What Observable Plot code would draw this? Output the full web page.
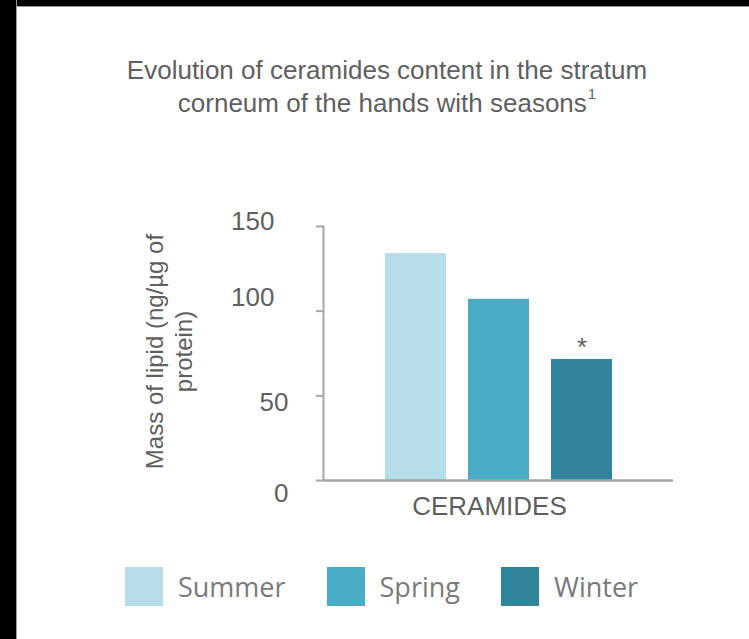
<!DOCTYPE html>
<html>
<head>
<meta charset="utf-8">
<script src="https://cdn.jsdelivr.net/npm/d3@7"></script>
<script src="https://cdn.jsdelivr.net/npm/@observablehq/plot@0.6"></script>
<style>
  html, body { margin: 0; padding: 0; background: #fff; }
  #page { position: relative; width: 749px; height: 639px; overflow: hidden; background: #fff; }
  #title {
    position: absolute; top: 53.5px; left: 16px; width: 742px;
    text-align: center; font-family: "Liberation Sans", Arial, sans-serif;
    font-size: 26px; line-height: 33.5px; color: #5f5f5f;
  }
  #title .sup { font-size: 15px; position: relative; top: -13px; margin-left: 1px; }
  #chart { position: absolute; top: 0; left: 0; }
  #chart svg { background: transparent !important; }
  #legend {
    position: absolute; top: 567px; left: 125px; display: flex; align-items: center;
    font-family: "Open Sans", sans-serif; font-size: 27px; color: #7a7a7a;
  }
  #legend .item { display: flex; align-items: center; margin-right: 41px; }
  #legend .sw { width: 38px; height: 39px; margin-right: 15px; }
  #bl { position: absolute; left: 0; top: 0; width: 16px; height: 639px; background: #000; border-right: 1px solid #9a9a9a; }
  #bt { position: absolute; left: 0; top: 0; width: 749px; height: 6px; background: #000; border-bottom: 1px solid #9a9a9a; }
</style>
</head>
<body>
<div id="page">
  <div id="chart"></div>
  <div id="title"></div>
  <div id="legend"></div>
  <div id="bt"></div>
  <div id="bl"></div>
</div>
<script>
// ---- data ----
const titleLine1 = "Evolution of ceramides content in the stratum";
const titleLine2 = "corneum of the hands with seasons";
const titleNote = "1";
const yLabel = "Mass of lipid (ng/\u00b5g of\nprotein)";
const category = "CERAMIDES";
const seasons = ["Summer", "Spring", "Winter"];
const values = [134, 107, 71.5];
const significance = ["", "", "*"];
const colors = ["#b7dde8", "#4bacc6", "#31849b"];
const yTicks = [0, 50, 100, 150];

const rows = seasons.map((s, i) => ({season: s, value: values[i], sig: significance[i]}));

// ---- title ----
const title = document.getElementById("title");
title.innerHTML = `${titleLine1}<br>${titleLine2}<span class="sup">${titleNote}</span>`;

const textColor = "#5f5f5f";
const axisColor = "#a6a6a6";

function tickLabel(vals, dx, dy) {
  return Plot.text(vals, {
    y: d => d, text: d => String(d), frameAnchor: "left", textAnchor: "end",
    dx, dy, fontSize: 26, fill: textColor
  });
}

const chart = Plot.plot({
  width: 749,
  height: 530,
  marginTop: 226,
  marginBottom: 50,
  marginLeft: 323,
  marginRight: 76,
  style: {fontFamily: "'Liberation Sans', Arial, sans-serif", background: "transparent"},
  x: {domain: seasons, paddingInner: 0.27, paddingOuter: 0.73, axis: null},
  y: {domain: [0, 150], axis: null},
  color: {domain: seasons, range: colors},
  marks: [
    Plot.barY(rows, {x: "season", y: "value", fill: "season", inset: 0}),
    Plot.axisY({ticks: yTicks, tickSize: 7, tickFormat: () => "", stroke: axisColor, strokeWidth: 2, label: null}),
    Plot.frame({anchor: "left", stroke: axisColor, strokeWidth: 2}),
    Plot.ruleY([0], {stroke: axisColor, strokeWidth: 2.5}),
    tickLabel([150], -49, -4.5),
    tickLabel([100], -49, -13),
    tickLabel([50], -35, 7.3),
    tickLabel([0], -35, 13),
    Plot.text(rows, {x: "season", y: "value", text: "sig", lineAnchor: "bottom", dy: -3, fontSize: 26, fill: textColor}),
    Plot.text([category], {frameAnchor: "bottom", lineAnchor: "top", dy: 16, dx: -9, fontSize: 26, fill: textColor}),
    Plot.text([yLabel], {frameAnchor: "left", textAnchor: "middle", lineAnchor: "middle", rotate: -90, dx: -155, dy: -2, fontSize: 24, lineHeight: 1.2, fill: textColor})
  ]
});
document.getElementById("chart").appendChild(chart);

// ---- legend ----
const color = chart.scale("color");
const legend = d3.select("#legend");
color.domain.forEach((s, i) => {
  const item = legend.append("div").attr("class", "item");
  item.append("div").attr("class", "sw").style("background", color.range[i]);
  item.append("span").text(s);
});
</script>
</body>
</html>
